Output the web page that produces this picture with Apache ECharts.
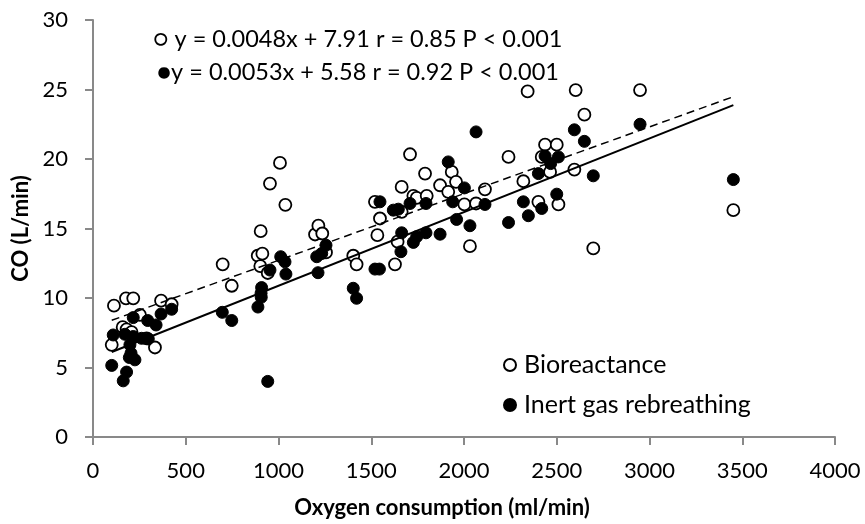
<!DOCTYPE html>
<html>
<head>
<meta charset="utf-8">
<script src="https://cdn.jsdelivr.net/npm/echarts@6/dist/echarts.min.js"></script>
<style>
  html, body { margin: 0; padding: 0; background: #fff; }
  #chart { width: 865px; height: 524px; }
</style>
</head>
<body>
<div id="chart"></div>
<script>
// Oxygen consumption (ml/min) vs cardiac output (L/min), two measurement methods
const bioreactance = [
  [101, 6.63], [113, 9.45], [160, 7.9], [178, 9.98], [181, 7.75], [208, 7.54], [217, 9.98],
  [253, 8.78], [289, 7.1], [334, 6.44], [367, 9.81], [424, 9.55],
  [699, 12.42], [748, 10.88], [888, 13.04], [904, 14.81], [913, 13.19], [902, 12.3],
  [942, 11.8], [954, 18.23], [1008, 19.72], [1037, 16.7], [1197, 14.57], [1215, 15.2],
  [1236, 14.64], [1256, 13.28], [1403, 13.04], [1421, 12.42],
  [1520, 16.92], [1533, 14.52], [1547, 15.72], [1628, 12.42], [1642, 14.05], [1664, 17.99],
  [1664, 16.2], [1709, 20.34], [1727, 17.35], [1745, 17.2], [1790, 18.95], [1799, 17.35],
  [1871, 18.11], [1915, 17.64], [1934, 19.07], [1957, 18.36], [2002, 16.73], [2032, 13.73],
  [2065, 16.8], [2113, 17.82], [2240, 20.15],
  [2320, 18.4], [2343, 24.86], [2401, 16.92], [2419, 20.15], [2437, 21.03], [2464, 19.07],
  [2500, 21.03], [2509, 16.73], [2595, 19.24], [2602, 24.96], [2649, 23.19], [2697, 13.57],
  [2949, 24.96], [3452, 16.32]
];

const inertGas = [
  [101, 5.15], [109, 7.34], [163, 4.04], [172, 7.39], [181, 4.67], [196, 5.72], [199, 6.63],
  [205, 6.03], [217, 8.59], [217, 7.23], [226, 5.55], [262, 7.1], [295, 8.38], [298, 7.06],
  [340, 8.06], [367, 8.85], [424, 9.19],
  [697, 8.97], [748, 8.38], [889, 9.35], [906, 10.34], [907, 10.05], [909, 10.75], [942, 4.0],
  [954, 12.01], [1012, 12.97], [1035, 12.6], [1040, 11.72], [1206, 12.97], [1213, 11.82],
  [1233, 13.2], [1256, 13.8], [1403, 10.7], [1421, 9.98],
  [1520, 12.08], [1544, 12.08], [1547, 16.92], [1619, 16.32], [1646, 16.39], [1660, 13.33],
  [1664, 14.69], [1709, 16.8], [1727, 14.0], [1745, 14.41], [1795, 16.8], [1795, 14.69],
  [1871, 14.59], [1915, 19.79], [1939, 16.92], [1960, 15.65], [2002, 17.92], [2032, 15.2],
  [2065, 21.95], [2113, 16.73], [2240, 15.43],
  [2320, 16.92], [2347, 15.92], [2401, 18.95], [2419, 16.44], [2437, 20.22], [2467, 19.67],
  [2500, 17.47], [2509, 20.15], [2595, 22.1], [2649, 21.27], [2697, 18.79], [2949, 22.5],
  [3452, 18.52]
];

// Regression fits (slope, intercept) as printed in the annotations
const fitBio = { slope: 0.0048, intercept: 7.91 };
const fitInert = { slope: 0.0053, intercept: 5.58 };
const fitRange = [101, 3452];

const xTicks = [0, 500, 1000, 1500, 2000, 2500, 3000, 3500, 4000];
const yTicks = [0, 5, 10, 15, 20, 25, 30];

const eqBio = '\u25CB y = 0.0048x + 7.91 r = 0.85 P < 0.001';
const eqInert = '\u25CFy = 0.0053x + 5.58 r = 0.92 P < 0.001';

function fitLine(fit) {
  return fitRange.map(x => [x, fit.slope * x + fit.intercept]);
}

const FONT = 'Lato, "Open Sans", sans-serif';
const AXIS_GRAY = '#898989';

const chart = echarts.init(document.getElementById('chart'), null, { renderer: 'canvas' });

chart.setOption({
  animation: false,
  backgroundColor: '#fff',
  grid: { left: 93, right: 30, top: 20, bottom: 85, containLabel: false },
  xAxis: {
    type: 'value',
    min: xTicks[0],
    max: xTicks[xTicks.length - 1],
    interval: 500,
    splitLine: { show: false },
    axisLine: { show: true, onZero: false, lineStyle: { color: AXIS_GRAY, width: 2 } },
    axisTick: { show: true, inside: false, length: 8, lineStyle: { color: AXIS_GRAY, width: 2 } },
    axisLabel: {
      color: '#000', fontSize: 22, fontFamily: FONT, margin: 23,
      formatter: v => String(v)
    },
    name: 'Oxygen consumption (ml/min)',
    nameLocation: 'middle',
    nameGap: 60,
    nameTextStyle: { color: '#000', fontSize: 22, fontWeight: 'bold', fontFamily: FONT, padding: [0, 44, 0, 0] }
  },
  yAxis: {
    type: 'value',
    min: yTicks[0],
    max: yTicks[yTicks.length - 1],
    interval: 5,
    splitLine: { show: false },
    axisLine: { show: true, onZero: false, lineStyle: { color: AXIS_GRAY, width: 2 } },
    axisTick: { show: true, inside: false, length: 8, lineStyle: { color: AXIS_GRAY, width: 2 } },
    axisLabel: { color: '#000', fontSize: 22, fontFamily: FONT, margin: 25 },
    name: 'CO (L/min)',
    nameLocation: 'middle',
    nameGap: 56,
    nameTextStyle: { color: '#000', fontSize: 22, fontWeight: 'bold', fontFamily: FONT }
  },
  legend: {
    orient: 'vertical',
    left: 498,
    top: 346,
    itemGap: 12,
    itemWidth: 12,
    itemHeight: 12,
    icon: 'circle',
    textStyle: { color: '#000', fontSize: 25, lineHeight: 28, fontFamily: FONT, padding: [0, 0, 0, 3] },
    data: ['Bioreactance', 'Inert gas rebreathing']
  },
  graphic: [
    { type: 'text', x: 153, y: 39, style: { text: eqBio, fill: '#000', font: '23.5px ' + FONT, verticalAlign: 'middle' } },
    { type: 'text', x: 157, y: 72, style: { text: eqInert, fill: '#000', font: '23.5px ' + FONT, verticalAlign: 'middle' } }
  ],
  series: [
    {
      name: 'Bioreactance',
      type: 'scatter',
      symbol: 'circle',
      symbolSize: 12,
      itemStyle: { color: '#fff', borderColor: '#000', borderWidth: 1.8, opacity: 1 },
      data: bioreactance,
      z: 3
    },
    {
      name: 'Inert gas rebreathing',
      type: 'scatter',
      symbol: 'circle',
      symbolSize: 12,
      itemStyle: { color: '#000', borderColor: '#000', borderWidth: 1, opacity: 1 },
      data: inertGas,
      z: 4
    },
    {
      name: 'Bioreactance fit',
      type: 'line',
      showSymbol: false,
      symbol: 'none',
      silent: true,
      lineStyle: { color: '#000', width: 1.5, type: [8, 5] },
      data: fitLine(fitBio),
      z: 5
    },
    {
      name: 'Inert gas fit',
      type: 'line',
      showSymbol: false,
      symbol: 'none',
      silent: true,
      lineStyle: { color: '#000', width: 2 },
      data: fitLine(fitInert),
      z: 5
    }
  ]
});
</script>
</body>
</html>
